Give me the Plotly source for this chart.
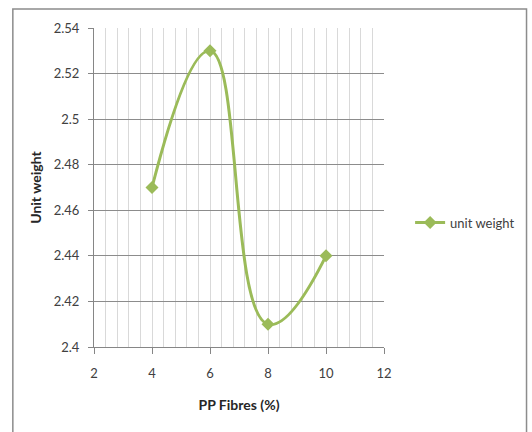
import plotly.graph_objects as go

# PP fibre content (%) and measured unit weight
fibres = [4, 6, 8, 10]
unit_weight = [2.47, 2.53, 2.41, 2.44]
series_name = "unit weight"

x_title = "PP Fibres (%)"
y_title = "Unit weight"
x_labels = {2: "2", 4: "4", 6: "6", 8: "8", 10: "10", 12: "12"}
y_ticks = [2.4, 2.42, 2.44, 2.46, 2.48, 2.5, 2.52, 2.54]
y_tick_text = ["2.4", "2.42", "2.44", "2.46", "2.48", "2.5", "2.52", "2.54"]

# light vertical grid every 0.4 between 2 and 12; labels only on the even values
x_grid = [round(2 + 0.4 * i, 2) for i in range(26)]
x_grid_text = [x_labels.get(v, "") if float(v).is_integer() else "" for v in x_grid]

W, H = 532, 432
L, R, T, B = 94, 145, 28, 85
pw, ph = W - L - R, H - T - B

green = "#9BBB59"
font_family = "Lato, Liberation Sans, Arial, sans-serif"
text_color = "#404040"

fig = go.Figure()
fig.add_trace(go.Scatter(
    x=fibres, y=unit_weight, name=series_name,
    mode="lines+markers",
    line=dict(color=green, width=3, shape="spline", smoothing=1.3),
    marker=dict(symbol="diamond", size=10, color=green),
))

fig.update_layout(
    width=W, height=H,
    margin=dict(l=L, r=R, t=T, b=B),
    paper_bgcolor="white", plot_bgcolor="white",
    font=dict(family=font_family, size=13, color=text_color),
    showlegend=True,
    legend=dict(x=1.09, y=0.39, xanchor="left", yanchor="middle",
                font=dict(size=13, color=text_color),
                bgcolor="rgba(0,0,0,0)", itemwidth=30),
    xaxis=dict(
        range=[2, 12], tickmode="array", tickvals=x_grid, ticktext=x_grid_text,
        showgrid=True, gridcolor="#d9d9d9", gridwidth=1,
        ticks="",
        minor=dict(tickmode="array", tickvals=list(x_labels.keys()),
                   ticks="outside", ticklen=6, tickcolor="#868686", showgrid=False),
        showline=True, linecolor="#868686", linewidth=1,
        ticklabelstandoff=14,
        zeroline=False,
        title=dict(text="<b>" + x_title + "</b>", standoff=20,
                   font=dict(size=14, color="#262626")),
    ),
    yaxis=dict(
        range=[2.4, 2.54], tickvals=y_ticks, ticktext=y_tick_text,
        showgrid=True, gridcolor="#8c8c8c", gridwidth=1,
        showline=True, linecolor="#868686", linewidth=1,
        ticks="outside", ticklen=5, tickcolor="#868686",
        ticklabelstandoff=6,
        zeroline=False,
        title=dict(text="<b>" + y_title + "</b>", standoff=8,
                   font=dict(size=14, color="#262626")),
    ),
    shapes=[dict(
        type="rect", xref="paper", yref="paper",
        x0=(12 - L) / pw, x1=(531 - L) / pw,
        y0=(H - B - 440) / ph, y1=(H - B - 9) / ph,
        line=dict(color="#8c8c8c", width=1.5), fillcolor="rgba(0,0,0,0)",
        layer="below",
    )],
)

fig.write_html("out.html")
